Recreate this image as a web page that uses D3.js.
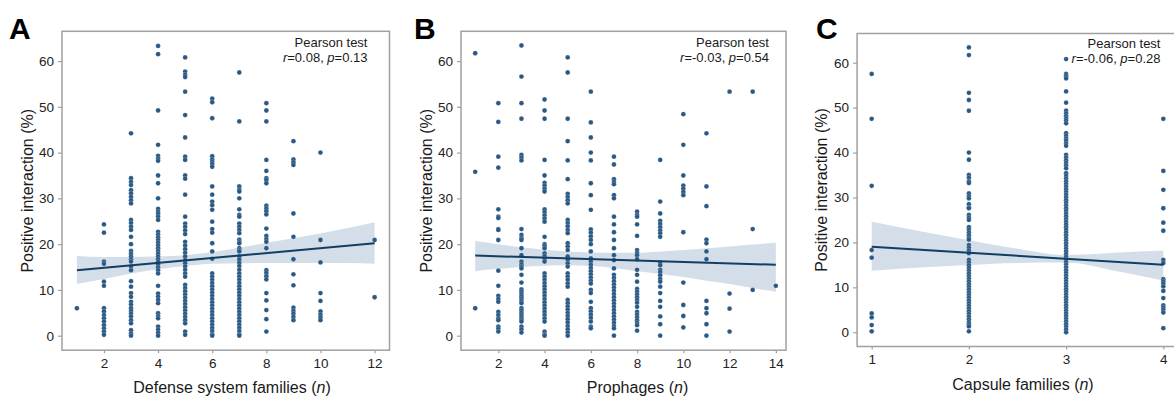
<!DOCTYPE html>
<html><head><meta charset="utf-8">
<script src="https://cdn.jsdelivr.net/npm/d3@7"></script>
<style>body{margin:0;background:#fff}svg{display:block}text{font-family:"Liberation Sans",Arial,sans-serif}</style>
</head><body><svg id="c" width="1174" height="396"></svg>
<script>
// ---------- Panel A: defense system families ----------
const defenseX = [1,2,3,4,5,6,7,8,9,10,12];
const defenseY = [
  [6.0],
  [24.3,22.5,16.2,15.7,11.8,10.9,6.0,5.3,4.5,3.8,3.1,2.3,1.6,0.9,0.2],
  [44.2,34.4,33.6,32.9,31.8,31.1,30.3,29.6,28.9,25.3,24.6,23.8,23.1,21.6,20.0,18.5,17.9,17.3,16.7,16.2,15.1,14.3,11.9,10.7,9.3,8.5,7.4,6.8,6.0,5.4,4.8,4.2,3.4,2.7,1.2,0.5,0],
  [63.3,61.5,49.2,41.7,39.3,38.7,38.2,35.0,33.3,30.0,27.7,27.1,26.6,26.0,25.3,22.7,22.1,21.5,20.9,20.3,19.7,19.1,18.5,17.9,17.3,16.7,16.1,15.5,14.9,14.3,13.6,10.9,9.2,8.5,7.8,7.1,4.9,4.3,3.8,2.0,1.3,0.6,0],
  [60.8,57.7,57.0,56.5,53.3,48.2,43.3,39.1,38.4,35.0,34.3,30.8,26.0,24.5,23.8,23.0,22.2,20.5,19.7,18.9,18.1,17.3,16.5,15.8,15.1,14.4,13.6,12.9,11.1,10.4,9.7,9.0,8.3,7.6,6.9,6.2,5.5,4.8,4.1,3.4,2.7,0.9,0.2],
  [51.8,51.0,47.5,39.2,38.5,38.0,37.5,36.9,32.6,30.8,29.3,28.5,27.5,24.9,23.3,22.5,20.2,18.4,16.8,13.6,12.9,12.2,11.5,10.8,10.1,9.4,8.7,8.0,7.3,6.6,5.9,5.2,4.5,3.8,3.1,2.4,1.7,1.0,0.3,0],
  [57.5,46.8,32.6,31.9,31.5,30.0,27.6,26.4,26.0,24.5,23.8,23.1,22.4,21.0,20.5,20.2,19.1,18.7,18.4,17.3,16.6,15.9,15.2,14.4,13.6,12.9,12.2,11.5,10.8,10.1,9.4,8.7,8.0,7.3,6.6,5.9,5.2,4.5,3.8,3.1,2.4,1.7,1.0,0.3,0],
  [50.8,49.2,46.8,38.4,36.0,34.4,34.0,33.3,28.4,27.8,27.2,26.5,23.4,21.8,21.1,20.5,19.1,14.3,13.7,13.0,12.3,9.3,7.7,5.6,3.6,0.9],
  [42.5,38.5,37.9,37.3,26.7,21.6,16.7,13.4,11.0,6.1,5.4,4.8,4.1,3.4],
  [40.0,20.9,16.0,9.3,7.6,5.3,4.6,4.0,3.4],
  [20.9,8.4]
];
const defenseFitX = [1,12];
const defenseFitY = [14.3,20.2];
const defenseBandX  = [1,2,3,4,5,6,7,8,9,10,11,12];
const defenseBandLo = [11.3,12.4,13.6,14.5,15.2,15.7,15.8,15.9,15.9,15.9,15.9,15.7];
const defenseBandHi = [17.4,17.2,17.2,17.3,17.6,18.3,19.2,20.3,21.3,22.3,23.5,24.8];
const defenseTicks = [2,4,6,8,10,12];

// ---------- Panel B: prophages ----------
const prophageX = [1,2,3,4,5,6,7,8,9,10,11,12,13,14];
const prophageY = [
  [61.7,35.8,6.0],
  [50.8,46.7,39.1,36.7,27.6,26.0,25.7,23.3,23.1,20.9,14.2,10.9,8.7,8.0,7.4,5.2,4.5,3.8,3.4,2.0,1.5,0.9],
  [63.4,56.6,50.8,47.4,39.5,38.9,38.3,23.3,22.0,21.3,20.9,19.1,17.6,16.2,15.6,15.1,14.7,13.3,11.6,10.1,9.6,9.1,8.6,8.1,7.6,7.1,6.0,5.5,5.0,4.5,4.0,3.5,3.1,2.0,1.4,0.7],
  [51.6,49.2,47.4,38.4,35.0,33.4,32.8,32.1,31.5,27.6,27.0,26.3,25.6,24.9,21.6,20.0,19.6,19.1,18.0,17.4,16.8,16.2,13.6,12.9,12.2,11.5,10.8,10.1,9.4,8.7,8.0,7.3,6.6,5.9,5.2,4.5,3.8,3.1,0.9,0.3,0],
  [60.8,57.5,47.4,42.5,38.3,34.2,31.0,30.3,29.6,28.9,25.3,24.6,23.9,23.1,22.4,20.2,19.5,18.7,17.3,16.6,15.8,15.1,13.6,12.9,12.2,11.4,10.7,7.8,7.1,6.4,5.7,5.0,4.3,3.6,2.9,2.1,1.4,0.7,0],
  [53.3,46.6,43.3,40.0,38.3,33.3,30.7,27.5,23.2,22.5,21.7,20.9,20.0,18.4,16.9,16.2,15.5,14.8,14.1,13.4,12.7,12.0,11.4,10.0,9.3,7.4,6.0,5.3,4.6,3.9,3.1,2.0,1.6],
  [39.1,37.4,34.2,33.6,33.1,30.7,30.0,26.0,24.3,22.6,20.9,19.1,17.6,16.5,14.7,13.3,12.6,11.9,11.2,10.5,9.8,9.1,8.4,7.7,7.0,6.3,5.6,4.9,4.2,3.5,2.8,2.1,1.6,0],
  [27.1,26.4,26.0,24.3,21.8,18.7,18.1,17.6,16.7,14.4,13.3,11.8,10.2,9.6,9.0,8.4,7.8,7.2,6.3,5.2,4.6,4.0,3.4,2.8,2.3,1.1],
  [38.4,29.3,26.7,25.1,24.4,23.7,23.0,22.4,21.6,16.0,15.4,14.4,13.9,13.2,12.4,11.8,10.7,9.3,7.6,6.3,4.2,2.5,0],
  [48.4,41.7,35.0,32.8,32.1,31.4,30.7,22.6,11.6,6.7,4.3,1.8],
  [44.2,32.6,28.3,21.0,20.2,18.4,16.7,7.6,6.0,4.9,2.5,0],
  [53.3,9.2,5.9,0.9],
  [53.3,23.3,10.0],
  [10.9]
];
const prophageFitX = [1,14];
const prophageFitY = [17.5,15.5];
const prophageBandX  = [1,2,3,4,5,6,7,8,9,10,11,12,13,14];
const prophageBandLo = [14.1,14.6,15.0,15.3,15.4,15.2,14.8,14.1,13.5,12.8,12.0,11.3,10.4,9.6];
const prophageBandHi = [20.7,20.0,19.3,18.8,18.4,18.2,18.1,18.1,18.4,18.7,19.1,19.5,19.9,20.3];
const prophageTicks = [2,4,6,8,10,12,14];

// ---------- Panel C: capsule families ----------
const capsuleX = [1,2,3,4];
const capsuleY = [
  [57.5,47.5,32.6,18.3,16.6,4.2,3.3,1.6,0.2],
  [63.4,61.7,53.3,51.7,49.3,40.0,38.4,35.0,34.4,33.6,33.2,30.9,30.3,29.8,28.5,27.8,27.6,26.1,25.5,25.0,23.4,22.8,22.2,21.6,21.0,20.6,19.4,18.8,18.2,17.6,16.1,15.5,14.9,14.3,13.7,13.1,12.5,11.9,11.3,10.7,10.1,9.5,8.9,8.3,7.7,7.1,6.5,5.9,5.3,4.7,4.1,3.5,2.9,2.3,1.8,1.3,0.2],
  [60.8,57.5,57.0,56.5,53.6,51.1,49.3,48.7,48.1,47.6,47.1,46.5,44.3,43.7,43.1,42.6,42.0,41.5,39.5,38.9,38.3,37.7,37.1,36.5,35.4,34.8,34.2,33.6,33.0,32.4,31.8,31.2,30.6,30.0,29.4,28.8,28.2,27.6,27.0,26.4,25.8,25.2,24.6,24.0,23.4,22.8,22.2,21.6,21.0,20.4,19.8,19.2,18.6,18.0,17.4,16.8,16.2,15.6,15.0,14.4,13.8,13.2,12.6,12.0,11.4,10.8,10.2,9.6,9.0,8.4,7.8,7.2,6.6,6.0,5.4,4.8,4.2,3.6,3.0,2.4,1.8,1.2,0.6,0],
  [47.5,35.9,31.7,27.6,24.4,22.6,16.1,15.4,11.8,11.3,10.8,10.2,9.2,7.6,6.0,5.5,5.0,4.4,0.9]
];
const capsuleFitX = [1,4];
const capsuleFitY = [19.05,15.0];
const capsuleBandX  = [1,1.5,2,2.5,3,3.5,4];
const capsuleBandLo = [13.7,14.4,14.95,15.4,15.5,13.7,11.5];
const capsuleBandHi = [24.6,22.5,20.5,18.6,17.2,17.7,18.2];
const capsuleTicks = [1,2,3,4];

const yTicks = [0,10,20,30,40,50,60];
const yLabel = "Positive interaction (%)";
const panelLetters = ["A","B","C"];
const xLabelMain = ["Defense system families","Prophages","Capsule families"];
const statR = ["0.08","-0.03","-0.06"];
const statP = ["0.13","0.54","0.28"];

// ---------- layout ----------
const panels = [
  {xs:defenseX, ys:defenseY, fitX:defenseFitX, fitY:defenseFitY, bX:defenseBandX, bLo:defenseBandLo, bHi:defenseBandHi, ticks:defenseTicks,
   xDom:[0.45,12.55], xRng:[62,389.5], yRng:[350.2,31.3], letterX:9, ylabX:33, xlabX:232, xlabY:393, annX:367.5, annY:[46.5,61.5]},
  {xs:prophageX, ys:prophageY, fitX:prophageFitX, fitY:prophageFitY, bX:prophageBandX, bLo:prophageBandLo, bHi:prophageBandHi, ticks:prophageTicks,
   xDom:[0.386,14.44], xRng:[461,786], yRng:[350.2,31.3], letterX:414, ylabX:431.5, xlabX:637.5, xlabY:393, annX:769, annY:[46.5,61.5]},
  {xs:capsuleX, ys:capsuleY, fitX:capsuleFitX, fitY:capsuleFitY, bX:capsuleBandX, bLo:capsuleBandLo, bHi:capsuleBandHi, ticks:capsuleTicks,
   xDom:[0.85,4.15], xRng:[857.1,1177.9], yRng:[346.5,33.5], letterX:816, ylabX:827, xlabX:1023, xlabY:390, annX:1160.5, annY:[48,62.5]}
];

const svg = d3.select("#c");
const frameCol = "#a0a0a0", dotCol = "#285884", lineCol = "#113e63", bandCol = "#d4dee8", txtCol = "#1a1a1a";

panels.forEach((p, i) => {
  const x = d3.scaleLinear().domain(p.xDom).range(p.xRng);
  const y = d3.scaleLinear().domain([-3.17,66.5]).range(p.yRng);
  const g = svg.append("g");

  const band = p.bX.map((v,k)=>({x:v, lo:p.bLo[k], hi:p.bHi[k]}));
  g.append("path").datum(band)
    .attr("d", d3.area().x(d=>x(d.x)).y0(d=>y(d.lo)).y1(d=>y(d.hi)).curve(d3.curveMonotoneX))
    .attr("fill", bandCol);

  const pts = [];
  p.xs.forEach((xv,k)=>p.ys[k].forEach(yv=>pts.push({x:xv,y:yv})));
  g.selectAll("circle").data(pts).join("circle")
    .attr("cx", d=>x(d.x)).attr("cy", d=>y(d.y)).attr("r", 2.4)
    .attr("fill", dotCol).attr("stroke","#ffffff").attr("stroke-width",0.35).attr("stroke-opacity",0.6);

  const fit = p.fitX.map((v,k)=>({x:v,y:p.fitY[k]}));
  g.append("path").datum(fit)
    .attr("d", d3.line().x(d=>x(d.x)).y(d=>y(d.y)))
    .attr("fill","none").attr("stroke", lineCol).attr("stroke-width", 2);

  g.append("rect").attr("x", p.xRng[0]).attr("y", p.yRng[1])
    .attr("width", p.xRng[1]-p.xRng[0]).attr("height", p.yRng[0]-p.yRng[1])
    .attr("fill","none").attr("stroke", frameCol).attr("stroke-width", 1.5);

  const yAx = g.append("g").attr("transform", `translate(${p.xRng[0]},0)`)
    .call(d3.axisLeft(y).tickValues(yTicks).tickSize(4).tickPadding(4));
  const xAx = g.append("g").attr("transform", `translate(0,${p.yRng[0]})`)
    .call(d3.axisBottom(x).tickValues(p.ticks).tickSize(3).tickPadding(5).tickFormat(d3.format("d")));
  [yAx, xAx].forEach(a=>{
    a.select(".domain").remove();
    a.selectAll(".tick line").attr("stroke", frameCol).attr("stroke-width",1.2);
    a.selectAll(".tick text").attr("fill","#222").style("font-size","13.5px").style("font-family",'"Liberation Sans",Arial,sans-serif');
  });

  g.append("text").attr("x", p.letterX).attr("y", 39).text(panelLetters[i])
    .style("font-size","30px").style("font-weight","bold").attr("fill","#000");

  g.append("text").attr("transform", `translate(${p.ylabX},${(p.yRng[0]+p.yRng[1])/2}) rotate(-90)`)
    .attr("text-anchor","middle").style("font-size","16px").attr("fill",txtCol).text(yLabel);

  const xl = g.append("text").attr("x", p.xlabX).attr("y", p.xlabY).attr("text-anchor","middle")
    .style("font-size","16px").attr("fill",txtCol);
  xl.append("tspan").text(xLabelMain[i] + " (");
  xl.append("tspan").style("font-style","italic").text("n");
  xl.append("tspan").text(")");

  g.append("text").attr("x", p.annX).attr("y", p.annY[0]).attr("text-anchor","end")
    .style("font-size","13px").attr("fill",txtCol).text("Pearson test");
  const a2 = g.append("text").attr("x", p.annX).attr("y", p.annY[1]).attr("text-anchor","end")
    .style("font-size","13px").attr("fill",txtCol);
  a2.append("tspan").style("font-style","italic").text("r");
  a2.append("tspan").text("=" + statR[i] + ", ");
  a2.append("tspan").style("font-style","italic").text("p");
  a2.append("tspan").text("=" + statP[i]);
});
</script>
</body></html>
